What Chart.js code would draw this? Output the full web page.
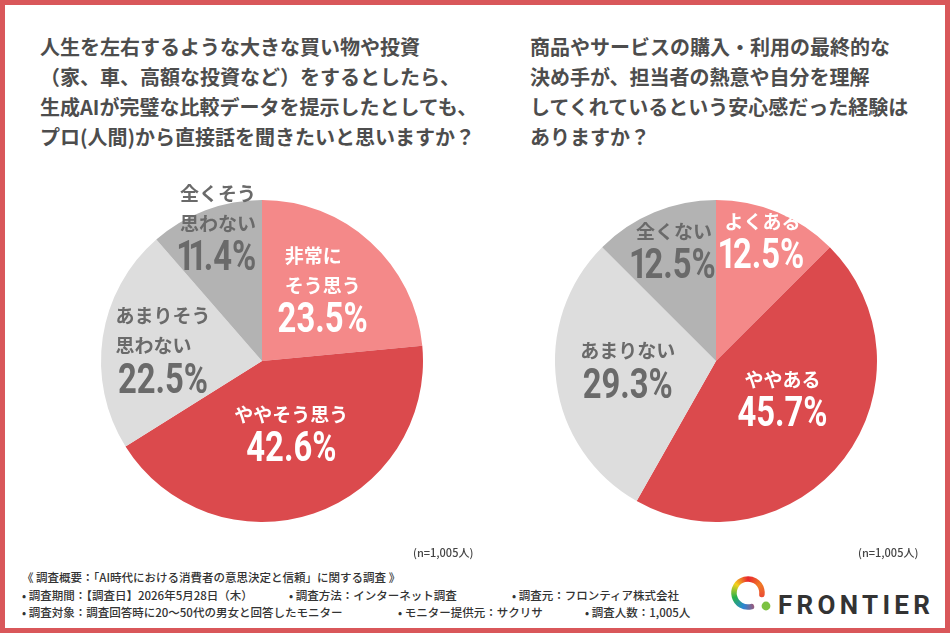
<!DOCTYPE html>
<html lang="ja">
<head>
<meta charset="utf-8">
<script src="https://cdn.jsdelivr.net/npm/chart.js@4.4.1/dist/chart.umd.min.js"></script>
<style>
  html, body { margin: 0; padding: 0; background: #fff; }
  #frame { position: relative; width: 950px; height: 633px; box-sizing: border-box;
           border: 5px solid #d9575a; background: #fff; overflow: hidden;
           font-family: "Noto Sans CJK JP", "Noto Sans", sans-serif; }
  .title { position: absolute; font-size: 20px; font-weight: 700; line-height: 30px;
           color: #4d4d4d; white-space: nowrap; letter-spacing: 0; }
  canvas.pie { position: absolute; }
  .foot { position: absolute; font-size: 11.5px; font-weight: 500; color: #333; white-space: nowrap; line-height: 14px; }
  .n { position: absolute; font-size: 11px; font-weight: 500; color: #444; white-space: nowrap; }
  #brand { position: absolute; left: 773px; top: 586px; font-family: Roboto, "DejaVu Sans", sans-serif;
           font-weight: 700; font-size: 26px; letter-spacing: 4.3px; color: #333; line-height: 28px; }
  #logo { position: absolute; left: 721px; top: 567px; }
</style>
</head>
<body>
<div id="frame">
  <div class="title" style="left:35px; top:27px;">人生を左右するような大きな買い物や投資<br>（家、車、高額な投資など）をするとしたら、<br>生成AIが完璧な比較データを提示したとしても、<br>プロ(人間)から直接話を聞きたいと思いますか？</div>
  <div class="title" style="left:525px; top:27px;">商品やサービスの購入・利用の最終的な<br>決め手が、担当者の熱意や自分を理解<br>してくれているという安心感だった経験は<br>ありますか？</div>

  <canvas id="leftPie" class="pie" width="380" height="380" style="left:67px; top:166px;"></canvas>
  <canvas id="rightPie" class="pie" width="380" height="380" style="left:521px; top:166px;"></canvas>

  <div class="n" style="left:408px; top:539px;">(n=1,005人)</div>
  <div class="n" style="left:853px; top:539px;">(n=1,005人)</div>

  <div class="foot" style="left:17px; top:565px;">《 調査概要：「AI時代における消費者の意思決定と信頼」に関する調査 》</div>
  <div class="foot" style="left:17px; top:583px;">• 調査期間：【調査日】2026年5月28日（木）</div>
  <div class="foot" style="left:284px; top:583px;">• 調査方法：インターネット調査</div>
  <div class="foot" style="left:507px; top:583px;">• 調査元：フロンティア株式会社</div>
  <div class="foot" style="left:17px; top:600px;">• 調査対象：調査回答時に20～50代の男女と回答したモニター</div>
  <div class="foot" style="left:393px; top:600px;">• モニター提供元：サクリサ</div>
  <div class="foot" style="left:580px; top:600px;">• 調査人数：1,005人</div>

  <canvas id="logo" width="48" height="48"></canvas>
  <div id="brand">FRONTIER</div>
</div>

<script>
// ---- data ----
const leftCategories = ['非常にそう思う', 'ややそう思う', 'あまりそう思わない', '全くそう思わない'];
const leftLabelLines = [['非常に', 'そう思う'], ['ややそう思う'], ['あまりそう', '思わない'], ['全くそう', '思わない']];
const leftValues = [23.5, 42.6, 22.5, 11.4];

const rightCategories = ['よくある', 'ややある', 'あまりない', '全くない'];
const rightLabelLines = [['よくある'], ['ややある'], ['あまりない'], ['全くない']];
const rightValues = [12.5, 45.7, 29.3, 12.5];

// ---- styles ----
const sliceColors = ['#f48989', '#db4a4d', '#dddddd', '#b3b3b3'];
const labelColors = ['#ffffff', '#ffffff', '#6a6a6a', '#6a6a6a'];
const leftPlacement = { radius: [0.59, 0.48, 0.62, 0.88], angleShift: [-2.6, -3.6, -1.3, 2.4] };
const rightPlacement = { radius: [0.81, 0.47, 0.55, 0.74], angleShift: [-1.6, -8.7, 2.8, 1.9] };

function drawPercent(ctx, txt, cx, cy) {
  const sx = 0.78;
  ctx.font = '700 42px Roboto, "DejaVu Sans", sans-serif';
  ctx.textAlign = 'center';
  const chars = [...txt];
  const adv = chars.map(ch => ctx.measureText(ch).width * (ch === '1' ? 0.64 : 1) * sx);
  const total = adv.reduce((a, b) => a + b, 0);
  let x = cx - total / 2;
  chars.forEach((ch, k) => {
    ctx.save();
    ctx.translate(x + adv[k] / 2, cy);
    ctx.scale(sx, 1);
    ctx.fillText(ch, 0, 0);
    ctx.restore();
    x += adv[k];
  });
}

const sliceLabelPlugin = {
  id: 'sliceLabels',
  afterDatasetsDraw(chart, args, opts) {
    const ctx = chart.ctx;
    const meta = chart.getDatasetMeta(0);
    const values = chart.data.datasets[0].data;
    meta.data.forEach((arc, i) => {
      const p = arc.getProps(['x', 'y', 'startAngle', 'endAngle', 'outerRadius'], true);
      const mid = (p.startAngle + p.endAngle) / 2 + opts.angleShift[i] * Math.PI / 180;
      const r = p.outerRadius * opts.radius[i];
      const cx = p.x + Math.cos(mid) * r;
      const cy = p.y + Math.sin(mid) * r;
      const lines = opts.lines[i];
      const lineH = 30, pctGap = 35;
      const total = (lines.length - 1) * lineH + pctGap;
      const top = cy - total / 2;
      ctx.save();
      ctx.fillStyle = labelColors[i];
      ctx.textBaseline = 'middle';
      ctx.font = '700 19px "Noto Sans CJK JP"';
      let maxW = 0;
      lines.forEach(l => { maxW = Math.max(maxW, ctx.measureText(l).width); });
      ctx.textAlign = 'left';
      lines.forEach((l, k) => { ctx.fillText(l, cx - maxW / 2, top + k * lineH); });
      drawPercent(ctx, values[i].toFixed(1) + '%', cx, top + (lines.length - 1) * lineH + pctGap + 1);
      ctx.restore();
    });
  }
};

function makePie(id, cats, vals, lines, placement) {
  new Chart(document.getElementById(id), {
    type: 'pie',
    data: {
      labels: cats,
      datasets: [{ data: vals, backgroundColor: sliceColors, borderWidth: 0, hoverOffset: 0 }]
    },
    options: {
      responsive: false,
      animation: false,
      layout: { padding: 29 },
      plugins: {
        legend: { display: false },
        tooltip: { enabled: false },
        sliceLabels: { lines: lines, radius: placement.radius, angleShift: placement.angleShift }
      }
    },
    plugins: [sliceLabelPlugin]
  });
}

makePie('leftPie', leftCategories, leftValues, leftLabelLines, leftPlacement);
makePie('rightPie', rightCategories, rightValues, rightLabelLines, rightPlacement);

// ---- logo mark ----
(function () {
  const c = document.getElementById('logo');
  const g = c.getContext('2d');
  const cx = 22, cy = 21, r = 14;
  let grad;
  if (g.createConicGradient) {
    grad = g.createConicGradient(-Math.PI / 2, cx, cy);
    grad.addColorStop(0, '#e8262f');
    grad.addColorStop(0.15, '#f07a26');
    grad.addColorStop(0.35, '#e83a3a');
    grad.addColorStop(0.55, '#2a86d6');
    grad.addColorStop(0.7, '#27b24a');
    grad.addColorStop(0.85, '#f4d21c');
    grad.addColorStop(1, '#e8262f');
  } else {
    grad = '#e8262f';
  }
  g.strokeStyle = grad;
  g.lineWidth = 5.5;
  g.lineCap = 'round';
  g.beginPath();
  g.arc(cx, cy, r, Math.PI * 0.42, Math.PI * 0.1 + Math.PI * 2 - 0.2, false);
  g.stroke();
  g.fillStyle = '#7cc242';
  g.beginPath();
  g.arc(40, 34, 4.4, 0, Math.PI * 2);
  g.fill();
})();
</script>
</body>
</html>
